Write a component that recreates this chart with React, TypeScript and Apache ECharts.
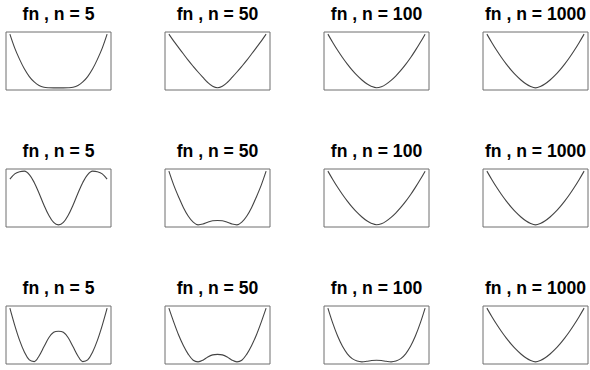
import React, { useEffect, useRef } from "react";
import * as echarts from "echarts";

// sample sizes shown in each row's panel titles
const sampleSizes = [5, 50, 100, 1000];

// x positions (normalised 0..1) where the curves were read
const xs = [0, 0.05, 0.1, 0.15, 0.2, 0.25, 0.3, 0.35, 0.4, 0.45, 0.5, 0.55, 0.6, 0.65, 0.7, 0.75, 0.8, 0.85, 0.9, 0.95, 1];

// row 1
const row1N5 = [1, 0.74, 0.53, 0.35, 0.21, 0.11, 0.045, 0.012, 0.002, 0, 0, 0, 0.002, 0.012, 0.045, 0.11, 0.21, 0.35, 0.53, 0.74, 1];
const row1N50 = [1, 0.87, 0.75, 0.63, 0.51, 0.4, 0.295, 0.195, 0.1, 0.03, 0.002, 0.03, 0.1, 0.195, 0.295, 0.4, 0.51, 0.63, 0.75, 0.87, 1];
const row1N100 = [1, 0.845, 0.7, 0.565, 0.442, 0.33, 0.231, 0.146, 0.076, 0.027, 0.002, 0.02, 0.07, 0.14, 0.225, 0.325, 0.437, 0.56, 0.697, 0.843, 1];
const row1N1000 = [1, 0.845, 0.7, 0.565, 0.442, 0.33, 0.231, 0.146, 0.076, 0.025, 0, 0.025, 0.076, 0.146, 0.231, 0.33, 0.442, 0.565, 0.7, 0.845, 1];
// row 2
const row2N5 = [0.85, 0.95, 0.99, 1, 0.935, 0.79, 0.59, 0.37, 0.18, 0.045, 0, 0.045, 0.18, 0.37, 0.59, 0.79, 0.935, 1, 0.99, 0.95, 0.85];
const row2N50 = [1, 0.74, 0.52, 0.32, 0.16, 0.05, 0, 0.015, 0.05, 0.075, 0.08, 0.075, 0.05, 0.015, 0, 0.05, 0.16, 0.32, 0.52, 0.74, 1];
const row2N100 = [1, 0.845, 0.7, 0.565, 0.442, 0.33, 0.231, 0.146, 0.076, 0.027, 0.002, 0.02, 0.07, 0.14, 0.225, 0.325, 0.437, 0.56, 0.697, 0.843, 1];
const row2N1000 = [1, 0.845, 0.7, 0.565, 0.442, 0.33, 0.231, 0.146, 0.076, 0.025, 0, 0.025, 0.076, 0.146, 0.231, 0.33, 0.442, 0.565, 0.7, 0.845, 1];
// row 3
const row3N5 = [1, 0.68, 0.4, 0.18, 0.035, 0.005, 0.11, 0.28, 0.45, 0.55, 0.57, 0.55, 0.45, 0.28, 0.11, 0.005, 0.035, 0.18, 0.4, 0.68, 1];
const row3N50 = [1, 0.74, 0.5, 0.3, 0.14, 0.03, 0, 0.03, 0.09, 0.13, 0.14, 0.13, 0.09, 0.03, 0, 0.03, 0.14, 0.3, 0.5, 0.74, 1];
const row3N100 = [1, 0.72, 0.48, 0.29, 0.15, 0.06, 0.015, 0, 0.01, 0.025, 0.03, 0.025, 0.01, 0, 0.015, 0.06, 0.15, 0.29, 0.48, 0.72, 1];
const row3N1000 = [1, 0.845, 0.7, 0.565, 0.442, 0.33, 0.231, 0.146, 0.076, 0.025, 0, 0.025, 0.076, 0.146, 0.231, 0.33, 0.442, 0.565, 0.7, 0.845, 1];

const rows = [
  [row1N5, row1N50, row1N100, row1N1000],
  [row2N5, row2N50, row2N100, row2N1000],
  [row3N5, row3N50, row3N100, row3N1000],
];

// layout
const colLefts = [6, 165, 324, 483];
const rowTops = [32, 169, 306];
const boxW = 105;
const boxH = 58;

export default function App() {
  const ref = useRef<HTMLDivElement>(null);

  useEffect(() => {
    if (!ref.current) return;
    const chart = echarts.init(ref.current, undefined, { renderer: "svg" });

    const grids: any[] = [];
    const xAxes: any[] = [];
    const yAxes: any[] = [];
    const series: any[] = [];
    const graphics: any[] = [];

    rows.forEach((row, r) => {
      row.forEach((ys, c) => {
        const i = r * 4 + c;
        grids.push({
          left: colLefts[c],
          top: rowTops[r],
          width: boxW,
          height: boxH,
          show: true,
          borderColor: "#6f6f6f",
          borderWidth: 1,
          backgroundColor: "transparent",
          containLabel: false,
        });
        xAxes.push({ type: "value", gridIndex: i, min: -0.04, max: 1.04, show: false });
        yAxes.push({ type: "value", gridIndex: i, min: -0.04, max: 1.04, show: false });
        series.push({
          type: "line",
          xAxisIndex: i,
          yAxisIndex: i,
          data: xs.map((x, j) => [x, ys[j]]),
          showSymbol: false,
          symbol: "none",
          smooth: 0.35,
          silent: true,
          lineStyle: { color: "#444444", width: 1.1 },
        });
        graphics.push({
          type: "text",
          x: colLefts[c] + boxW / 2,
          y: rowTops[r] - 18,
          style: {
            text: `fn , n = ${sampleSizes[c]}`,
            fontFamily: "Liberation Sans",
            fontWeight: "bold",
            fontSize: 17.6,
            fill: "#000",
            align: "center",
            verticalAlign: "middle",
          },
        });
      });
    });

    chart.setOption({
      animation: false,
      backgroundColor: "#ffffff",
      grid: grids,
      xAxis: xAxes,
      yAxis: yAxes,
      series,
      graphic: graphics,
    });

    return () => chart.dispose();
  }, []);

  return (
    <div
      ref={ref}
      style={{ position: "absolute", left: 0, top: 0, width: 590, height: 370 }}
    />
  );
}
